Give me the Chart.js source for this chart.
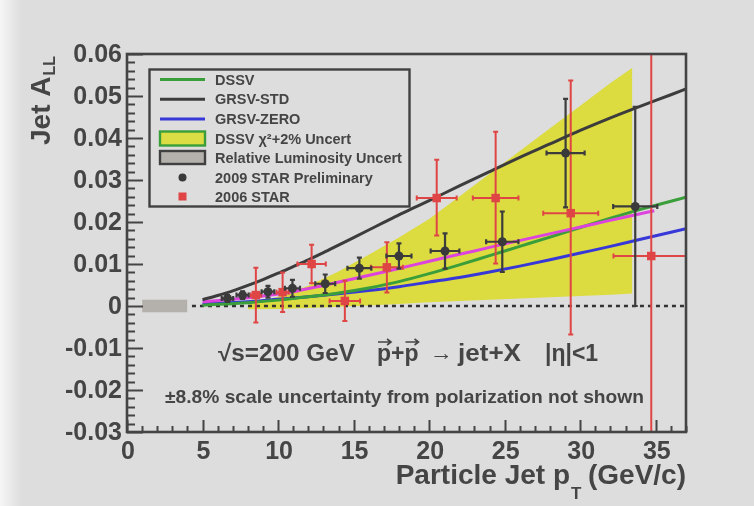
<!DOCTYPE html>
<html>
<head>
<meta charset="utf-8">
<script src="https://cdn.jsdelivr.net/npm/chart.js@4.4.0/dist/chart.umd.min.js"></script>
<style>
  html, body { margin: 0; padding: 0; background: #dcdddc; }
  #wrap { width: 754px; height: 506px; }
</style>
</head>
<body>
<div id="wrap"><canvas id="c" width="754" height="506"></canvas></div>
<script>
// axis ticks
const xTicks = [0, 5, 10, 15, 20, 25, 30, 35];
const xTickLabels = ['0', '5', '10', '15', '20', '25', '30', '35'];
const yTicks = [-0.03, -0.02, -0.01, 0, 0.01, 0.02, 0.03, 0.04, 0.05, 0.06];
const yTickLabels = ['-0.03', '-0.02', '-0.01', '0', '0.01', '0.02', '0.03', '0.04', '0.05', '0.06'];

// theory curves
const dssvX = [5, 8, 10, 12, 14, 16, 18, 20, 22, 24, 26, 28, 30, 32, 34, 37];
const dssvY = [0.0002, 0.0008, 0.0014, 0.0022, 0.0031, 0.0043, 0.0058, 0.0077, 0.0098, 0.0120, 0.0142, 0.0164, 0.0187, 0.0209, 0.0230, 0.0259];
const grsvStdX = [5, 6, 7, 8, 9, 10, 11, 12, 13, 14, 15, 16, 17, 18, 19, 20, 22, 24, 26, 28, 30, 32, 34, 36, 37];
const grsvStdY = [0.0015, 0.0025, 0.0036, 0.0049, 0.0063, 0.0078, 0.0094, 0.0110, 0.0127, 0.0145, 0.0163, 0.0181, 0.0199, 0.0217, 0.0234, 0.0251, 0.0286, 0.0320, 0.0354, 0.0386, 0.0418, 0.0448, 0.0476, 0.0503, 0.0517];
const grsvZeroX = [5, 8, 10, 12, 14, 16, 18, 20, 22, 24, 26, 28, 30, 32, 34, 37];
const grsvZeroY = [0.0005, 0.0010, 0.0016, 0.0022, 0.0029, 0.0037, 0.0046, 0.0057, 0.0068, 0.0081, 0.0095, 0.0110, 0.0126, 0.0142, 0.0159, 0.0184];
const magentaX = [5, 7, 9, 11, 13, 15, 17, 19, 21, 23, 25, 27, 29, 31, 33, 34.9];
const magentaY = [0.0010, 0.0016, 0.0024, 0.0034, 0.0049, 0.0065, 0.0081, 0.0098, 0.0115, 0.0131, 0.0148, 0.0164, 0.0180, 0.0196, 0.0212, 0.0227];

// DSSV chi2 + 2% band
const bandX = [8, 10, 12, 14, 16, 18, 20, 22, 24, 26, 28, 30, 32, 33.45];
const bandUpper = [0.0003, 0.0022, 0.0048, 0.0082, 0.0122, 0.0163, 0.0207, 0.0261, 0.0315, 0.0369, 0.0423, 0.0477, 0.0531, 0.0567];
const bandLower = [-0.0008, -0.0007, -0.0005, -0.0002, 0.0001, 0.0005, 0.0009, 0.0012, 0.0015, 0.0018, 0.0021, 0.0024, 0.0027, 0.0030];

// relative luminosity uncertainty box
const lumiX = [1, 4];
const lumiHalf = 0.0015;
const zeroLineX = [4.3, 37];

// 2009 STAR preliminary
const star09X = [6.65, 7.65, 9.33, 10.95, 13.12, 15.38, 18.0, 21.05, 24.84, 29.03, 33.64];
const star09Y = [0.0018, 0.0026, 0.0034, 0.0042, 0.0053, 0.0090, 0.0119, 0.0131, 0.0153, 0.0364, 0.0237];
const star09XErr = [0.38, 0.40, 0.42, 0.50, 0.66, 0.79, 0.83, 0.95, 1.07, 1.26, 1.46];
const star09YErr = [0.0008, 0.0009, 0.0014, 0.0020, 0.0022, 0.0025, 0.0030, 0.0042, 0.0072, 0.0129, 0.0237];

// 2006 STAR
const star06X = [8.53, 10.3, 12.22, 14.42, 17.2, 20.5, 24.4, 29.37, 34.7];
const star06Y = [0.0026, 0.0033, 0.0100, 0.0012, 0.0092, 0.0257, 0.0257, 0.0221, 0.0119];
const star06XErr = [0.35, 0.40, 0.94, 1.01, 1.06, 1.32, 1.51, 1.82, 2.5];
const star06YErrLow = [0.0065, 0.0047, 0.0046, 0.0048, 0.0060, 0.0089, 0.0156, 0.0289, 0.05];
const star06YErrHigh = [0.0065, 0.0047, 0.0046, 0.0048, 0.0060, 0.0091, 0.0158, 0.0316, 0.05];

const FONT = '"Liberation Sans", Arial, Helvetica, sans-serif';
const TXT = '#454545';

const pts = (xs, ys) => xs.map((x, i) => ({ x: x, y: ys[i] }));

function lineDs(label, xs, ys, color, order) {
  return {
    label: label, data: pts(xs, ys), showLine: true, borderColor: color, borderWidth: 3,
    pointRadius: 0, cubicInterpolationMode: 'monotone', fill: false, order: order
  };
}

// text squeezed/stretched to a given width
function fitText(ctx, text, x, y, width) {
  const w = ctx.measureText(text).width;
  ctx.save();
  ctx.translate(x, y);
  ctx.scale(width / w, 1);
  ctx.fillText(text, 0, 0);
  ctx.restore();
}

// background
const bgPlugin = {
  id: 'bg',
  beforeDraw(chart) {
    const ctx = chart.ctx;
    ctx.save();
    ctx.fillStyle = '#dcdddc';
    ctx.fillRect(0, 0, chart.width, chart.height);
    const g = ctx.createLinearGradient(0, 0, 22, 0);
    g.addColorStop(0, 'rgba(248,248,248,0.9)');
    g.addColorStop(1, 'rgba(248,248,248,0)');
    ctx.fillStyle = g;
    ctx.fillRect(0, 0, 22, chart.height);
    ctx.restore();
  }
};

// error bars with small caps, drawn just before each point set
const errorBars = {
  id: 'errorBars',
  beforeDatasetDraw(chart, args) {
    const ds = chart.data.datasets[args.index];
    if (!ds.err) return;
    const { ctx, chartArea: a } = chart;
    const xs = chart.scales.x, ys = chart.scales.y;
    const e = ds.err;
    ctx.save();
    ctx.beginPath();
    ctx.rect(a.left, a.top, a.right - a.left, a.bottom - a.top);
    ctx.clip();
    ctx.strokeStyle = e.color;
    ctx.lineWidth = e.width;
    const c = 2.5;
    ds.data.forEach((p, i) => {
      const px = xs.getPixelForValue(p.x), py = ys.getPixelForValue(p.y);
      const x0 = xs.getPixelForValue(p.x - e.xErr[i]), x1 = xs.getPixelForValue(p.x + e.xErr[i]);
      const y0 = ys.getPixelForValue(p.y - e.yLow[i]), y1 = ys.getPixelForValue(p.y + e.yHigh[i]);
      ctx.beginPath();
      ctx.moveTo(x0, py); ctx.lineTo(x1, py);
      ctx.moveTo(px, y0); ctx.lineTo(px, y1);
      ctx.moveTo(x0, py - c); ctx.lineTo(x0, py + c);
      ctx.moveTo(x1, py - c); ctx.lineTo(x1, py + c);
      ctx.moveTo(px - c, y0); ctx.lineTo(px + c, y0);
      ctx.moveTo(px - c, y1); ctx.lineTo(px + c, y1);
      ctx.stroke();
    });
    ctx.restore();
  }
};

// frame, ticks, labels, legend and annotations
const decor = {
  id: 'decor',
  afterDraw(chart) {
    const { ctx, chartArea: a } = chart;
    const xs = chart.scales.x, ys = chart.scales.y;
    ctx.save();
    ctx.strokeStyle = '#444';
    ctx.fillStyle = TXT;

    // y ticks
    ctx.lineWidth = 2;
    ctx.beginPath();
    for (let v = -30; v <= 60; v += 2) {
      const py = Math.round(ys.getPixelForValue(v / 1000)) + 0.5;
      const len = v % 10 === 0 ? 16 : 8;
      ctx.moveTo(a.left, py); ctx.lineTo(a.left + len, py);
    }
    // x ticks
    for (let v = 0; v <= 37; v++) {
      const px = Math.round(xs.getPixelForValue(v)) + 0.5;
      const len = v % 5 === 0 ? 12 : 6;
      ctx.moveTo(px, a.bottom); ctx.lineTo(px, a.bottom - len);
    }
    ctx.stroke();

    // frame
    ctx.lineWidth = 2.6;
    ctx.strokeRect(a.left, a.top, a.right - a.left, a.bottom - a.top);

    // tick labels
    ctx.font = 'bold 25px ' + FONT;
    ctx.textAlign = 'right';
    ctx.textBaseline = 'middle';
    yTicks.forEach((v, i) => ctx.fillText(yTickLabels[i], a.left - 5, ys.getPixelForValue(v) + 1));
    ctx.textAlign = 'center';
    ctx.textBaseline = 'alphabetic';
    xTicks.forEach((v, i) => ctx.fillText(xTickLabels[i], xs.getPixelForValue(v) + 1, 459));

    // x title
    ctx.font = 'bold 28px ' + FONT;
    ctx.textAlign = 'right';
    ctx.fillText('(GeV/c)', 686, 484);
    ctx.fillText('Particle Jet p', 570, 484);
    ctx.textAlign = 'left';
    ctx.font = 'bold 17px ' + FONT;
    ctx.fillText('T', 571, 499);

    // y title
    ctx.save();
    ctx.translate(50, 145);
    ctx.rotate(-Math.PI / 2);
    ctx.font = 'bold 28px ' + FONT;
    ctx.textAlign = 'left';
    ctx.fillText('Jet A', 0, 0);
    const w = ctx.measureText('Jet A').width;
    ctx.font = 'bold 16px ' + FONT;
    ctx.fillText('LL', w + 1, 5);
    ctx.restore();

    // annotation line 1
    const base1 = 361;
    ctx.font = 'bold 23px ' + FONT;
    ctx.textAlign = 'left';
    fitText(ctx, '\u221As=200 GeV', 218, base1, 137);
    const pw = ctx.measureText('p').width;
    const ppx = 377;
    ctx.fillText('p+p', ppx, base1);
    const p2 = ppx + ctx.measureText('p+').width;
    ctx.lineWidth = 1.6;
    ctx.strokeStyle = TXT;
    [ppx, p2].forEach(sx => {
      const ay = base1 - 19;
      ctx.beginPath();
      ctx.moveTo(sx + 1, ay); ctx.lineTo(sx + pw, ay);
      ctx.moveTo(sx + pw - 4, ay - 3); ctx.lineTo(sx + pw, ay); ctx.lineTo(sx + pw - 4, ay + 3);
      ctx.stroke();
    });
    ctx.font = '22px ' + FONT;
    fitText(ctx, '\u2192', 430, base1 - 1, 23);
    ctx.font = 'bold 23px ' + FONT;
    fitText(ctx, 'jet+X', 458, base1, 63);
    ctx.fillText('|\u03B7|<1', 545, base1);

    // annotation line 2
    ctx.font = 'bold 19px ' + FONT;
    fitText(ctx, '\u00B18.8% scale uncertainty from polarization not shown', 165, 403, 479);

    // legend box
    ctx.lineWidth = 2.4;
    ctx.strokeStyle = '#404040';
    ctx.strokeRect(149.5, 69.5, 260, 137);
    const rows = [79.5, 99.3, 119, 138.5, 158, 177.5, 196.5];
    const labels = ['DSSV', 'GRSV-STD', 'GRSV-ZERO', 'DSSV \u03C7\u00B2+2% Uncert', 'Relative Luminosity Uncert', '2009 STAR Preliminary', '2006 STAR'];
    ctx.lineWidth = 3;
    [['#3a9e3a', 0], ['#3c3c3c', 1], ['#3838d8', 2]].forEach(([col, r]) => {
      ctx.strokeStyle = col;
      ctx.beginPath(); ctx.moveTo(160, rows[r]); ctx.lineTo(205, rows[r]); ctx.stroke();
    });
    ctx.lineWidth = 2.4;
    ctx.fillStyle = '#dcdc44'; ctx.strokeStyle = '#3a9e3a';
    ctx.fillRect(160, rows[3] - 7, 45, 14); ctx.strokeRect(160, rows[3] - 7, 45, 14);
    ctx.fillStyle = '#b4b0ab'; ctx.strokeStyle = '#404040';
    ctx.fillRect(160, rows[4] - 7, 45, 13); ctx.strokeRect(160, rows[4] - 7, 45, 13);
    ctx.fillStyle = '#3a3a3a';
    ctx.beginPath(); ctx.arc(182.5, rows[5], 4, 0, Math.PI * 2); ctx.fill();
    ctx.fillStyle = '#e04545';
    ctx.fillRect(178.5, rows[6] - 4, 8, 8);
    ctx.fillStyle = TXT;
    ctx.font = 'bold 14.5px ' + FONT;
    ctx.textBaseline = 'middle';
    labels.forEach((t, i) => ctx.fillText(t, 215, rows[i] + 1));
    ctx.restore();
  }
};

const datasets = [
  { label: '2009 STAR Preliminary', data: pts(star09X, star09Y), pointStyle: 'circle', pointRadius: 4.5,
    backgroundColor: '#3a3a3a', borderWidth: 0, order: 1,
    err: { xErr: star09XErr, yLow: star09YErr, yHigh: star09YErr, color: '#3c3c3c', width: 2.2 } },
  { label: '2006 STAR', data: pts(star06X, star06Y), pointStyle: 'rect', pointRadius: 6,
    backgroundColor: '#e04545', borderWidth: 0, order: 2,
    err: { xErr: star06XErr, yLow: star06YErrLow, yHigh: star06YErrHigh, color: '#e04545', width: 2 } },
  lineDs('GRSV-STD', grsvStdX, grsvStdY, '#3c3c3c', 3),
  lineDs('magenta', magentaX, magentaY, '#dd44dd', 4),
  lineDs('DSSV', dssvX, dssvY, '#3a9e3a', 4),
  lineDs('GRSV-ZERO', grsvZeroX, grsvZeroY, '#3838d8', 5),
  { label: 'zero', data: zeroLineX.map(x => ({ x: x, y: 0 })), showLine: true, borderColor: '#333',
    borderWidth: 2.5, borderDash: [4, 4], pointRadius: 0, order: 6 },
  { label: 'lumiTop', data: lumiX.map(x => ({ x: x, y: lumiHalf })), showLine: true, borderWidth: 0,
    pointRadius: 0, backgroundColor: '#b4b0ab', fill: '+1', order: 7 },
  { label: 'lumiBottom', data: lumiX.map(x => ({ x: x, y: -lumiHalf })), showLine: true, borderWidth: 0,
    pointRadius: 0, fill: false, order: 7 },
  { label: 'bandUpper', data: pts(bandX, bandUpper), showLine: true, borderWidth: 0, pointRadius: 0,
    backgroundColor: '#dcdc40', fill: '+1', order: 9 },
  { label: 'bandLower', data: pts(bandX, bandLower), showLine: true, borderWidth: 0, pointRadius: 0,
    fill: false, order: 9 }
];

new Chart(document.getElementById('c'), {
  type: 'scatter',
  data: { datasets: datasets },
  options: {
    responsive: false,
    animation: false,
    devicePixelRatio: 1,
    layout: { padding: { left: 127, right: 68, top: 54, bottom: 74 } },
    scales: {
      x: { type: 'linear', min: 0, max: 37, display: false },
      y: { type: 'linear', min: -0.03, max: 0.06, display: false }
    },
    plugins: { legend: { display: false }, tooltip: { enabled: false } }
  },
  plugins: [bgPlugin, errorBars, decor]
});
</script>
</body>
</html>
